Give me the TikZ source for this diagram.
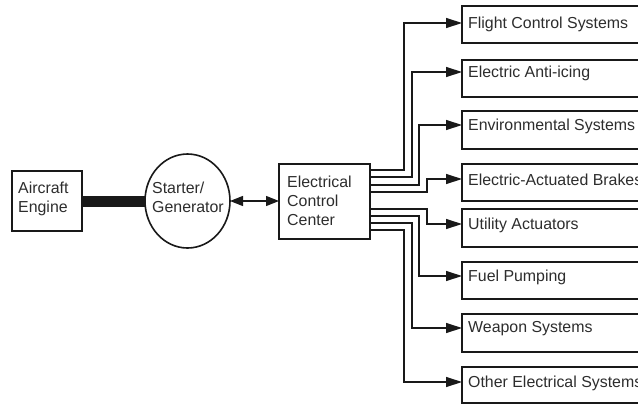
\documentclass[tikz,border=0pt]{standalone}
\usepackage{fontspec}
\setmainfont{Liberation Sans}
\usetikzlibrary{arrows.meta,shapes.geometric}
\definecolor{ink}{RGB}{25,25,25}
\definecolor{txt}{RGB}{45,45,45}
\begin{document}
\begin{tikzpicture}[x=1pt,y=-1pt,
  box/.style={draw=ink,line width=1.6pt,inner sep=0pt,outer sep=0pt,fill=white},
  lbl/.style={anchor=west,inner sep=0pt,align=left,text=txt,font=\fontsize{15.9}{19}\selectfont},
  wire/.style={draw=ink,line width=1.3pt},
  tip/.style={-{Triangle[length=16pt,width=10pt]}},
  dtip/.style={{Triangle[length=13pt,width=10pt]}-{Triangle[length=13pt,width=10pt]}}]
\clip (0,0) rectangle (638,405);
\fill[white] (0,0) rectangle (638,405);
% left part
\node[box,anchor=north west,minimum width=70pt,minimum height=60pt] (eng) at (12,171) {};
\node[lbl] (tEng) at (18,199) {Aircraft\\Engine};
\node[box,ellipse,minimum width=85pt,minimum height=94pt] (sg) at (187.5,201) {};
\node[lbl] (tSg) at (152,197.5) {Starter/\\Generator};
\node[box,anchor=north west,minimum width=91pt,minimum height=75pt] (ecc) at (279,164) {};
\node[lbl] (tEcc) at (287,200.5) {Electrical\\Control\\Center};
\draw[ink,line width=11pt] (eng.east |- 0,201.5) -- (sg.west |- 0,201.5);
\draw[wire,dtip] (sg.east) -- (ecc.west |- sg.east);
% right boxes
\foreach \i/\t/\b/\a/\o/\x/\txtlabel in {
  1/6/43/23/170/404/Flight Control Systems,
  2/60/97/72/177/412/Electric Anti-icing,
  3/111/149/125/185/419/Environmental Systems,
  4/164/201/179/192/427/Electric-Actuated Brakes,
  5/209/247/224/209/427/Utility Actuators,
  6/262/299/276/216/419/Fuel Pumping,
  7/314/352/328/223/412/Weapon Systems,
  8/367/403/382/230/404/Other Electrical Systems}{
  \pgfmathsetmacro{\hh}{\b-\t}
  \node[box,anchor=north west,minimum width=240pt,minimum height=\hh pt] (s\i) at (462,\t) {};
  \node[lbl] (ts\i) at (468,\a+1) {\txtlabel};
  \draw[wire,tip] (ecc.east |- 0,\o) -| (\x,\a) -- (s\i.west |- 0,\a);
}
\end{tikzpicture}
\end{document}
